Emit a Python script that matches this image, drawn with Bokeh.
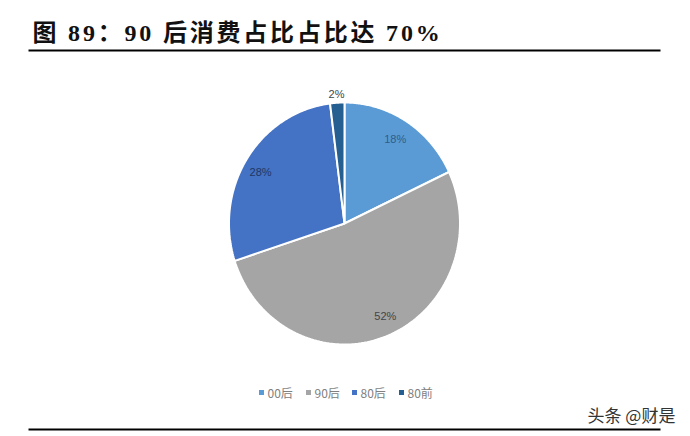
import numpy as np
from bokeh.plotting import figure
from bokeh.layouts import column
from bokeh.models import Range1d
from bokeh.core.properties import value
from bokeh.embed import file_html
from bokeh.resources import INLINE

categories = ["00后", "90后", "80后", "80前"]
shares = [18, 52, 28, 2]
labels = ["18%", "52%", "28%", "2%"]
colors = ["#5B9BD5", "#A5A5A5", "#4472C4", "#255E91"]
title = "图 89：90 后消费占比占比达 70%"
watermark = "头条 @财是"

W, H, TOP = 690, 436, 54
CX, CY = 344, 223
RX, RY = 115.5, 121


def blank(height, y_start, y_end):
    f = figure(width=W, height=height, output_backend="svg", toolbar_location=None,
               x_range=Range1d(0, W), y_range=Range1d(y_start, y_end), min_border=0,
               outline_line_color=None)
    f.xaxis.visible = False
    f.yaxis.visible = False
    f.grid.visible = False
    return f


# title strip: letter-spacing is inherited by its svg text only
t = blank(TOP, TOP, 0)
t.styles = {"letter-spacing": "2.8px"}
t.text([32], [32], text=[title], text_font=value("Liberation Serif, Noto Sans CJK SC"),
       text_font_style="bold", text_font_size="24px", text_color="#111111",
       text_baseline="middle")
t.segment([28], [50], [660], [50], line_color="black", line_width=2)

p = blank(H - TOP, H, TOP)

fr = np.cumsum([0] + shares) / sum(shares)
xs, ys = [], []
for a, b in zip(fr[:-1], fr[1:]):
    th = np.linspace(a, b, 120) * 2 * np.pi
    xs.append(np.r_[CX, CX + RX * np.sin(th)])
    ys.append(np.r_[CY, CY - RY * np.cos(th)])
p.patches(xs, ys, fill_color=colors, line_color="white", line_width=2)

# data labels, placed along each slice's mid-angle
mid = (fr[:-1] + fr[1:]) / 2 * 2 * np.pi
lr_x = [0.82, 0.96, 0.86, 1.10]
lr_y = [0.83, 0.82, 0.80, 1.076]
lx = [CX + RX * r * np.sin(m) for r, m in zip(lr_x, mid)]
ly = [CY - RY * r * np.cos(m) for r, m in zip(lr_y, mid)]
lc = ["#2F5D8A", "#444444", "#203864", "#444444"]
p.text(lx, ly, text=labels, text_color=lc, text_font=value("Liberation Sans"),
       text_font_size="11px", text_align="center", text_baseline="middle")

p.segment([28], [429], [660], [429], line_color="black", line_width=2)

# legend
leg_x = [261, 308, 354, 401]
p.scatter(leg_x, [392] * 4, marker="square", size=5, fill_color=colors, line_color=None)
p.text([v + 6 for v in leg_x], [392] * 4, text=categories, text_color="#808080",
       text_font=value("Noto Sans CJK SC"), text_font_size="12px", text_baseline="middle")

p.text([587], [414], text=[watermark], text_color="#333333",
       text_font=value("Noto Sans CJK SC"), text_font_size="17px", text_baseline="middle")

open("out.html", "w").write(file_html(column(t, p, spacing=0), INLINE))
